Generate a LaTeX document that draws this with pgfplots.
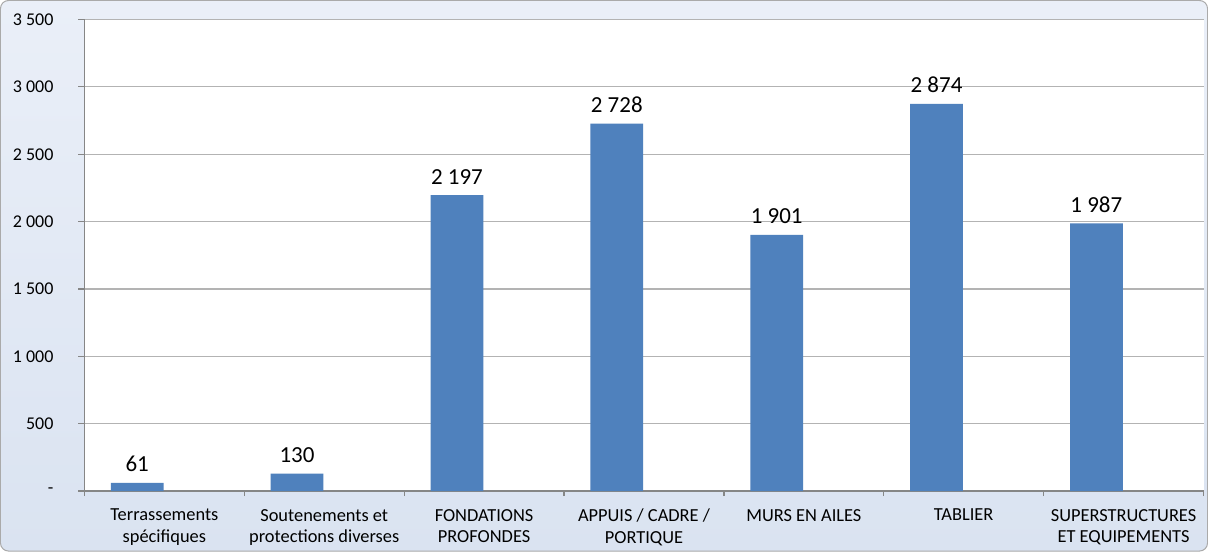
\documentclass[border=0pt]{standalone}
\usepackage{pgfplots}
\pgfplotsset{compat=1.18}
\usepackage{fontspec}
\setmainfont{Carlito}

\definecolor{barblue}{HTML}{4F81BD}
\definecolor{bgtop}{HTML}{EAEFF8}
\definecolor{bgbot}{HTML}{DAE3F1}
\definecolor{axgray}{HTML}{868686}
\definecolor{gridgray}{HTML}{B3B3B3}

\begin{document}
\begin{tikzpicture}
% chart area background (1 px = 0.5 pt)
\shade[top color=bgtop, bottom color=bgbot, draw=axgray!70, line width=0.5pt, rounded corners=4pt]
  (-42pt,-30pt) rectangle (562pt,245.5pt);
\begin{axis}[
    at={(0,0)}, anchor=south west,
    scale only axis,
    width=560pt, height=236pt,
    axis background/.style={fill=white},
    ybar,
    bar width=0.33,
    bar shift=-0.17,
    xmin=-0.5, xmax=6.5,
    ymin=0, ymax=3500,
    axis x line*=bottom,
    axis y line*=left,
    axis line style={axgray, line width=0.6pt},
    xtick={0,...,6},
    xticklabels={{Terrassements\\spécifiques},
                 {Soutenements et\\protections diverses},
                 {FONDATIONS\\PROFONDES},
                 {APPUIS / CADRE /\\PORTIQUE},
                 {MURS EN AILES},
                 {TABLIER},
                 {SUPERSTRUCTURES\\ET EQUIPEMENTS}},
    xticklabel style={font=\fontsize{9.2}{10.6}\selectfont, align=center, anchor=north, yshift=-2.5pt},
    major x tick style={draw=none},
    minor xtick={-0.5,0.5,...,6.5},
    minor x tick style={axgray, line width=0.6pt},
    minor tick length=2.5pt,
    ytick={0,500,...,3500},
    yticklabels={{-\hspace{4pt}},500,1 000,1 500,2 000,2 500,3 000,3 500},
    yticklabel style={font=\fontsize{9}{10.8}\selectfont, anchor=east, xshift=-9pt},
    major tick length=3pt,
    tick align=outside,
    y tick style={axgray, line width=0.6pt},
    ymajorgrids=true,
    grid style={gridgray, line width=0.6pt},
    nodes near coords,
    /pgf/number format/assume math mode=true,
    /pgf/number format/1000 sep={\ },
    every node near coord/.append style={font=\fontsize{11.5}{13.5}\selectfont, black, yshift=2pt},
]
\addplot[fill=barblue, draw=none] coordinates {
  (0,61) (1,130) (2,2197) (3,2728) (4,1901) (5,2874) (6,1987)
};
\end{axis}
\end{tikzpicture}
\end{document}
